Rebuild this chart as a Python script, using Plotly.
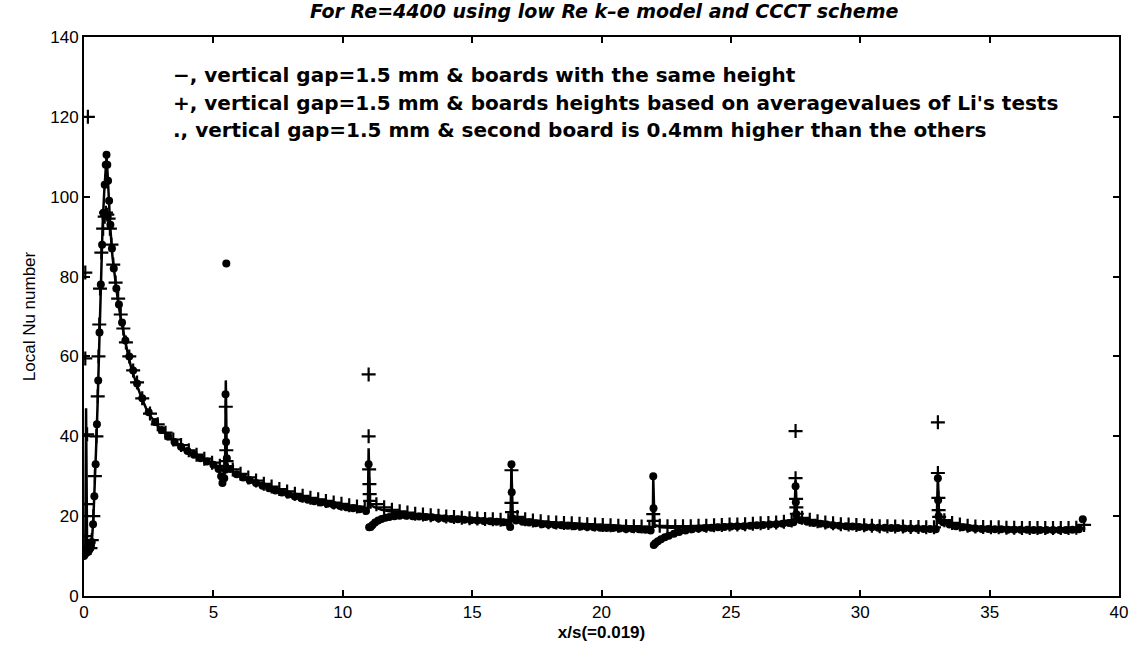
import plotly.graph_objects as go

# ---- solid line: vertical gap 1.5 mm, boards with the same height ----
solid_x = [0.0, 0.05, 0.08, 0.1, 0.12, 0.2, 0.3, 0.36, 0.42, 0.48,
           0.53, 0.57, 0.61, 0.66, 0.72, 0.78, 0.84, 0.87, 0.91, 0.96,
           1.02, 1.1, 1.2, 1.3, 1.42, 1.55, 1.7, 1.85, 2.0, 2.2,
           2.4, 2.6, 2.8, 3.0, 3.3, 3.6, 3.9, 4.2, 4.5, 4.8,
           5.1, 5.35, 5.45, 5.48, 5.52, 5.6, 5.8, 6.0, 6.3, 6.6,
           6.9, 7.2, 7.5, 7.8, 8.1, 8.4, 8.7, 9.0, 9.3, 9.6,
           9.9, 10.2, 10.5, 10.8, 10.97, 11.0, 11.05, 11.2, 11.5, 11.8,
           12.1, 12.4, 12.7, 13.0, 13.5, 14.0, 14.5, 15.0, 15.5, 16.0,
           16.3, 16.48, 16.52, 16.57, 16.8, 17.2, 17.6, 18.0, 18.5, 19.0,
           19.5, 20.0, 20.5, 21.0, 21.5, 21.9, 21.98, 22.0, 22.05, 22.3,
           22.7, 23.2, 23.7, 24.2, 24.7, 25.2, 25.7, 26.2, 26.7, 27.1,
           27.45, 27.5, 27.55, 27.8, 28.2, 28.6, 29.0, 29.5, 30.0, 30.5,
           31.0, 31.5, 32.0, 32.5, 32.95, 33.0, 33.05, 33.3, 33.7, 34.2,
           34.7, 35.2, 35.7, 36.2, 36.7, 37.2, 37.7, 38.2, 38.7]
solid_y = [11, 11.5, 47, 12, 11.5, 11.8, 13.5, 19, 28, 39,
           49, 59, 72, 84, 93, 101, 107, 110, 106, 99,
           92, 85, 79, 74.5, 69.5, 65, 60.5, 56.5, 53.5, 50,
           47, 44.8, 43, 41.5, 39.6, 38.1, 36.8, 35.6, 34.6, 33.6,
           32.7, 31.6, 30.5, 54, 33.5, 32, 31, 30.4, 29.5, 28.7,
           27.9, 27.2, 26.6, 26.0, 25.4, 24.9, 24.4, 24.0, 23.6, 23.2,
           22.9, 22.5, 22.2, 21.8, 21.5, 37, 23, 22.3, 21.6, 21.2,
           20.9, 20.6, 20.4, 20.2, 19.9, 19.7, 19.5, 19.3, 19.1, 18.9,
           18.8, 18.6, 32, 20, 19.1, 18.7, 18.4, 18.2, 17.9, 17.8,
           17.6, 17.5, 17.35, 17.2, 17.1, 16.9, 16.6, 29.5, 17.8, 17.2,
           17.1, 17.1, 17.2, 17.3, 17.4, 17.6, 17.7, 17.9, 18.1, 18.3,
           18.6, 29, 19.5, 18.9, 18.5, 18.2, 18.0, 17.7, 17.5, 17.4,
           17.3, 17.2, 17.1, 17.0, 16.9, 30.5, 19, 18.2, 17.6, 17.3,
           17.1, 17.0, 16.9, 16.9, 16.8, 16.8, 16.8, 16.8, 16.9]

# ---- "+" markers: board heights from averaged values of Li's tests ----
plus_x = [0.15, 0.05, 0.05, 0.12, 0.1, 0.08, 0.15, 0.25, 0.3,
          0.36, 0.42, 0.48, 0.53, 0.56, 0.59, 0.62, 0.67, 0.74, 0.8,
          0.85, 0.9, 0.95, 1.0, 1.06, 1.13, 1.22, 1.32, 1.42, 1.52,
          1.62, 1.75, 1.9, 2.05,
          2.25, 2.55, 2.85, 3.15, 3.45, 3.75, 4.05, 4.35, 4.65, 4.95, 5.25, 5.42,
          5.48, 5.5, 5.51, 5.53,
          5.75, 6.05, 6.35, 6.65, 6.95, 7.25, 7.55, 7.85, 8.15, 8.45, 8.75,
          9.05, 9.35, 9.65, 9.95, 10.25, 10.55, 10.85,
          11.0, 11.0, 11.02, 11.03, 11.04, 11.06,
          11.3, 11.6, 11.9, 12.2, 12.5, 12.8, 13.1, 13.4, 13.7, 14.0,
          14.3, 14.6, 14.9, 15.2, 15.5, 15.8, 16.1, 16.4,
          16.52, 16.52, 16.54,
          16.75, 17.05, 17.35, 17.65, 17.95, 18.25, 18.55, 18.85, 19.15, 19.45,
          19.75, 20.05, 20.35, 20.65, 20.95, 21.25, 21.55, 21.85,
          22.0, 22.02,
          22.25, 22.55, 22.85, 23.15, 23.45, 23.75, 24.05, 24.35, 24.65, 24.95,
          25.25, 25.55, 25.85, 26.15, 26.45, 26.75, 27.05, 27.35,
          27.5, 27.5, 27.52, 27.53, 27.55,
          27.75, 28.05, 28.35, 28.65, 28.95, 29.25, 29.55, 29.85, 30.15, 30.45,
          30.75, 31.05, 31.35, 31.65, 31.95, 32.25, 32.55, 32.85,
          33.0, 33.0, 33.02, 33.03, 33.05,
          33.25, 33.55, 33.85, 34.15, 34.45, 34.75, 35.05, 35.35, 35.65, 35.95,
          36.25, 36.55, 36.85, 37.15, 37.45, 37.75, 38.05, 38.35, 38.65]
plus_y = [120, 81, 59.5, 40.5, 23, 15, 12.5, 12, 14,
          20, 30, 40, 50, 60, 68, 77, 86, 92, 95,
          96, 95.5, 94.5, 92, 88, 83, 78.5, 74.5, 70.5, 67,
          63.5, 60, 56.5, 53.5,
          49.5, 45.7, 43, 40.9, 39.2, 37.8, 36.5, 35.4, 34.4, 33.4, 32.6, 32,
          47.4, 36.5, 33.8, 32.5,
          31.7, 30.6, 29.7, 28.9, 28.1, 27.4, 26.8, 26.2, 25.6, 25.1, 24.6,
          24.2, 23.8, 23.4, 23.1, 22.7, 22.4, 22.1,
          55.5, 40, 31.7, 28, 25.5, 23.8,
          23, 22.2, 21.6, 21.2, 20.9, 20.6, 20.4, 20.2, 20.1, 19.9,
          19.8, 19.6, 19.5, 19.4, 19.3, 19.2, 19.1, 19.0,
          31.5, 23.3, 21,
          19.8, 19.2, 18.9, 18.7, 18.5, 18.4, 18.3, 18.2, 18.1, 18.0,
          17.9, 17.8, 17.7, 17.6, 17.5, 17.5, 17.4, 17.3,
          20.5, 18.8,
          17.6, 17.5, 17.5, 17.5, 17.5, 17.6, 17.6, 17.7, 17.8, 17.9,
          17.9, 18.0, 18.1, 18.2, 18.3, 18.4, 18.6, 18.9,
          41.3, 29.5, 24.3, 22.2, 20.6,
          19.6, 19.1, 18.7, 18.4, 18.2, 18.0, 17.9, 17.8, 17.7, 17.6,
          17.5, 17.5, 17.4, 17.4, 17.3, 17.3, 17.2, 17.2,
          43.5, 30.8, 24.6, 21.5, 19.8,
          19.0, 18.3, 17.9, 17.6, 17.4, 17.3, 17.2, 17.2, 17.1, 17.1,
          17.0, 17.0, 17.0, 17.0, 17.0, 17.0, 17.0, 17.1, 17.8]

# ---- "." markers: second board 0.4 mm higher than the others ----
dot_x = [0.0, 0.05, 0.1, 0.15, 0.2, 0.25, 0.3,
         0.35, 0.4, 0.45, 0.5, 0.55, 0.6, 0.65, 0.7, 0.75, 0.8,
         0.84, 0.87, 0.9, 0.93, 0.97, 1.02, 1.08, 1.15, 1.25, 1.35,
         1.47, 1.6, 1.75, 1.9, 2.05, 2.25,
         2.5, 2.75, 3.0, 3.25, 3.5, 3.75, 4.0, 4.25, 4.5, 4.75,
         5.0, 5.2, 5.3, 5.35, 5.42,
         5.47, 5.48, 5.49, 5.5, 5.52,
         5.65, 5.9, 6.15, 6.4, 6.65, 6.9, 7.15, 7.4, 7.65, 7.9,
         8.15, 8.4, 8.65, 8.9, 9.15, 9.4, 9.65, 9.9, 10.15, 10.4,
         10.65, 10.9,
         11.0, 11.02, 11.08, 11.15, 11.25, 11.37, 11.5, 11.65, 11.8, 12.0,
         12.2, 12.45, 12.7, 12.95, 13.2, 13.45, 13.7, 13.95, 14.2, 14.45,
         14.7, 14.95, 15.2, 15.45, 15.7, 15.95, 16.2, 16.4, 16.47,
         16.52, 16.53, 16.56,
         16.7, 16.95, 17.2, 17.45, 17.7, 17.95, 18.2, 18.45, 18.7, 18.95,
         19.2, 19.45, 19.7, 19.95, 20.2, 20.45, 20.7, 20.95, 21.2, 21.45,
         21.7, 21.9,
         22.0, 22.01, 22.02, 22.08, 22.18, 22.3, 22.45, 22.6, 22.8, 23.0,
         23.25, 23.5, 23.75, 24.0, 24.25, 24.5, 24.75, 25.0, 25.25, 25.5,
         25.75, 26.0, 26.25, 26.5, 26.75, 27.0, 27.25, 27.42,
         27.5, 27.51, 27.53,
         27.7, 27.95, 28.2, 28.45, 28.7, 28.95, 29.2, 29.45, 29.7, 29.95,
         30.2, 30.45, 30.7, 30.95, 31.2, 31.45, 31.7, 31.95, 32.2, 32.45,
         32.7, 32.92,
         33.0, 33.01, 33.03,
         33.2, 33.45, 33.7, 33.95, 34.2, 34.45, 34.7, 34.95, 35.2, 35.45,
         35.7, 35.95, 36.2, 36.45, 36.7, 36.95, 37.2, 37.45, 37.7, 37.95,
         38.2, 38.45, 38.6]
dot_y = [10, 10.5, 11, 11, 11.5, 12, 13.5,
         18, 25, 33, 43, 54, 66, 78, 88, 96, 103,
         108, 110.5, 108, 104, 99, 93, 87, 82, 77, 73,
         68.5, 64, 60, 56.5, 53.2, 49.5,
         46, 43.6, 41.6, 40, 38.6, 37.4, 36.3, 35.4, 34.5, 33.7,
         32.9, 31.8, 30, 28.3, 29.5,
         50.5, 41.5, 38.6, 83.3, 34.5,
         31.8, 30.5, 29.7, 29, 28.3, 27.6, 27, 26.4, 25.9, 25.4,
         24.9, 24.5, 24.1, 23.7, 23.4, 23.1, 22.8, 22.5, 22.2, 22.0,
         21.7, 21.3,
         33, 17.2, 17.3, 17.8, 18.4, 18.9, 19.3, 19.6, 19.8, 20,
         20.1, 20.1, 20.0, 19.9, 19.8, 19.7, 19.5, 19.4, 19.3, 19.2,
         19.1, 19.0, 18.9, 18.8, 18.7, 18.6, 18.5, 18.3, 17.3,
         33, 26, 19.5,
         18.9, 18.6, 18.4, 18.2, 18.0, 17.9, 17.8, 17.7, 17.6, 17.5,
         17.4, 17.3, 17.2, 17.1, 17.0, 17.0, 16.9, 16.8, 16.8, 16.7,
         16.6, 16.4,
         30, 22, 12.8, 13.2, 13.7, 14.2, 14.7, 15.1, 15.6, 16.0,
         16.4, 16.7, 16.9, 17.0, 17.1, 17.2, 17.3, 17.4, 17.5, 17.5,
         17.6, 17.7, 17.8, 17.9, 18.0, 18.1, 18.3, 18.5,
         27.5, 23.5, 20.5,
         19.0, 18.6, 18.3, 18.1, 17.9, 17.7, 17.6, 17.5, 17.4, 17.3,
         17.2, 17.2, 17.1, 17.1, 17.0, 17.0, 16.9, 16.9, 16.9, 16.8,
         16.8, 16.7,
         29.5, 24, 20,
         18.5, 17.9, 17.5, 17.2, 17.0, 16.9, 16.8, 16.8, 16.7, 16.7,
         16.6, 16.6, 16.6, 16.6, 16.5, 16.5, 16.5, 16.5, 16.5, 16.5,
         16.6, 16.7, 19.2]

legend_lines = [
    "\u2212, vertical gap=1.5 mm & boards with the same height",
    "+, vertical gap=1.5 mm & boards heights based on averagevalues of Li's tests",
    "., vertical gap=1.5 mm & second board is 0.4mm higher than the others",
]
legend_y = [130.5, 123.5, 116.8]

x_ticks = [0, 5, 10, 15, 20, 25, 30, 35, 40]
y_ticks = [0, 20, 40, 60, 80, 100, 120, 140]

fig = go.Figure()
fig.add_trace(go.Scatter(x=solid_x, y=solid_y, mode="lines",
                         line=dict(color="black", width=2.5)))
fig.add_trace(go.Scatter(x=dot_x, y=dot_y, mode="markers",
                         marker=dict(symbol="circle", size=8, color="black")))
fig.add_trace(go.Scatter(x=plus_x, y=plus_y, mode="markers",
                         marker=dict(symbol="cross-thin", size=10,
                                     line=dict(color="black", width=2.2))))

text_font = dict(family="DejaVu Sans", size=20, color="black", weight="bold")
for txt, yy in zip(legend_lines, legend_y):
    fig.add_annotation(x=3.38, y=yy, xref="x", yref="y", text=txt,
                       showarrow=False, xanchor="left", yanchor="middle",
                       font=text_font)

axis_common = dict(showline=True, linecolor="black", linewidth=2, mirror="ticks",
                   ticks="inside", ticklen=6, tickwidth=1.5, tickcolor="black",
                   showgrid=False, zeroline=False,
                   tickfont=dict(family="Liberation Sans", size=17, color="black"))

fig.update_layout(
    width=1140, height=651,
    margin=dict(l=84, r=15, t=37, b=45),
    paper_bgcolor="white", plot_bgcolor="white",
    showlegend=False,
    title=dict(text="<i>For Re=4400 using low Re k\u2013e model and CCCT scheme</i>",
               x=0.53, xanchor="center", y=0.982, yanchor="middle",
               font=dict(family="DejaVu Sans", size=19, color="black", weight="bold")),
    xaxis=dict(range=[0, 40], tickvals=x_ticks,
               title=dict(text="<b>x/s(=0.019)</b>", standoff=5,
                          font=dict(family="Liberation Sans Narrow, Liberation Sans",
                                    size=17, color="black")),
               **axis_common),
    yaxis=dict(range=[0, 140], tickvals=y_ticks,
               title=dict(text="Local Nu number", standoff=10,
                          font=dict(family="Liberation Sans Narrow, Liberation Sans",
                                    size=17, color="black")),
               **axis_common),
)

fig.write_html("out.html")
